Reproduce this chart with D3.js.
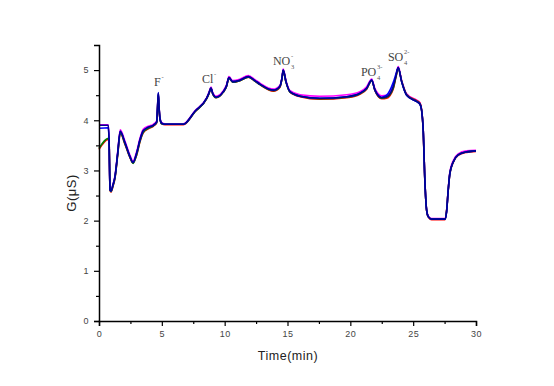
<!DOCTYPE html>
<html><head><meta charset="utf-8">
<script src="https://cdn.jsdelivr.net/npm/d3@7"></script>
<style>body{margin:0;background:#fff}svg{display:block}</style>
</head><body>
<script>
const time = [0,0.74,0.80,0.88,0.95,1.11,1.27,1.49,1.69,2.07,2.47,2.71,3.0,3.26,3.52,3.92,4.32,4.59,4.65,4.72,4.77,4.85,4.99,5.25,6.71,7.64,8.57,8.75,8.91,9.07,9.31,9.89,10.14,10.34,10.64,11.22,11.88,12.41,12.81,13.87,14.40,14.56,14.66,14.88,15.2,16.0,17.58,19.71,20.76,21.3,21.7,21.96,22.49,22.89,23.41,23.63,23.81,24.08,24.48,25.28,25.54,25.67,25.80,25.93,26.07,26.20,26.46,27.53,27.66,27.79,27.92,28.19,28.58,29.25,30.0];

const magentaG = [3.91,3.91,3.62,2.62,2.60,2.72,2.89,3.38,3.81,3.58,
3.30,3.19,3.38,3.64,3.82,3.88,3.92,3.99,4.22,4.52,
4.31,4.05,3.95,3.93,3.93,4.19,4.45,4.56,4.66,4.54,
4.48,4.59,4.70,4.87,4.79,4.82,4.89,4.81,4.74,4.62,
4.70,4.85,5.02,4.79,4.59,4.51,4.48,4.51,4.57,4.67,
4.82,4.63,4.49,4.50,4.68,4.89,5.07,4.80,4.53,4.40,
4.35,4.22,3.82,2.82,2.22,2.09,2.04,2.04,2.19,2.63,
2.97,3.20,3.33,3.39,3.40];

const redG = [3.42,3.62,3.58,2.60,2.57,2.68,2.84,3.31,3.74,3.52,
3.25,3.15,3.31,3.57,3.75,3.83,3.88,3.95,4.18,4.50,
4.28,4.02,3.93,3.91,3.91,4.17,4.43,4.53,4.63,4.51,
4.45,4.56,4.67,4.84,4.76,4.79,4.86,4.78,4.71,4.58,
4.66,4.83,4.99,4.76,4.56,4.47,4.42,4.45,4.52,4.62,
4.79,4.59,4.43,4.44,4.62,4.86,5.04,4.78,4.51,4.39,
4.34,4.21,3.79,2.80,2.20,2.07,2.02,2.02,2.20,2.60,
2.93,3.16,3.30,3.36,3.38];

const greenG = [3.44,3.64,3.59,2.61,2.58,2.69,2.85,3.32,3.75,3.53,
3.26,3.14,3.32,3.58,3.76,3.84,3.89,3.96,4.19,4.51,
4.29,4.03,3.93,3.92,3.92,4.17,4.43,4.53,4.63,4.51,
4.45,4.56,4.67,4.84,4.76,4.79,4.86,4.78,4.71,4.59,
4.67,4.83,4.99,4.76,4.56,4.48,4.43,4.46,4.53,4.63,
4.79,4.60,4.44,4.46,4.64,4.87,5.04,4.78,4.51,4.38,
4.33,4.21,3.80,2.81,2.21,2.08,2.03,2.03,2.19,2.61,
2.94,3.17,3.31,3.37,3.39];

const blueG = [3.84,3.85,3.60,2.61,2.59,2.71,2.87,3.35,3.78,3.55,
3.27,3.16,3.35,3.61,3.79,3.86,3.90,3.97,4.22,4.55,
4.30,4.04,3.94,3.92,3.92,4.18,4.44,4.54,4.64,4.52,
4.46,4.57,4.68,4.85,4.77,4.80,4.87,4.79,4.72,4.60,
4.68,4.84,5.00,4.77,4.57,4.48,4.44,4.47,4.54,4.64,
4.80,4.60,4.46,4.50,4.75,4.92,5.05,4.77,4.50,4.37,
4.32,4.20,3.80,2.81,2.21,2.08,2.03,2.03,2.18,2.61,
2.94,3.17,3.31,3.37,3.39];

const navyG = [3.90,3.90,3.61,2.61,2.59,2.71,2.87,3.35,3.78,3.55,
3.27,3.16,3.35,3.61,3.79,3.86,3.90,3.97,4.20,4.54,
4.30,4.04,3.94,3.92,3.92,4.18,4.44,4.54,4.64,4.52,
4.46,4.57,4.68,4.85,4.77,4.80,4.87,4.79,4.72,4.60,
4.68,4.84,5.00,4.77,4.57,4.48,4.44,4.47,4.54,4.64,
4.80,4.60,4.45,4.47,4.67,4.88,5.05,4.77,4.50,4.37,
4.32,4.20,3.80,2.81,2.21,2.08,2.03,2.03,2.18,2.61,
2.94,3.17,3.31,3.37,3.39];

const seriesNames = ["magenta","red","green","blue","navy"];
const seriesValues = [magentaG, redG, greenG, blueG, navyG];
const seriesColors = ["#ff00ff","#ff0000","#008000","#0000ff","#000090"];

const xTicks = [0,5,10,15,20,25,30];
const yTicks = [0,1,2,3,4,5];

// peak labels: [main, subscript, superscript, time (left edge), G (baseline)]
const peakLabels = [
  ["F","","-",4.38,4.68],
  ["Cl","","-",8.19,4.74],
  ["NO","3","-",13.84,5.10],
  ["PO","4","3-",20.84,4.88],
  ["SO","4","2-",22.99,5.18]
];

const W = 554, H = 386;
const svg = d3.select("body").append("svg").attr("width",W).attr("height",H);
const x = d3.scaleLinear().domain([0,30]).range([99,476]);
const y = d3.scaleLinear().domain([0,5.5]).range([321,45]);

const line = d3.line().x((d,i)=>x(time[i])).y(d=>y(d)).curve(d3.curveMonotoneX);
seriesValues.forEach((vals,k)=>{
  svg.append("path").datum(vals).attr("d",line)
    .attr("fill","none").attr("stroke",seriesColors[k]).attr("stroke-width",1.6)
    .attr("stroke-linejoin","round");
});

// axes
svg.append("g").attr("transform","translate(0,321)")
  .call(d3.axisBottom(x).tickValues(xTicks).tickSize(5).tickPadding(5).tickFormat(d3.format("d")));
svg.append("g").attr("transform","translate(0,321)")
  .call(d3.axisBottom(x).tickValues(d3.range(2.5,30,5)).tickSize(3).tickFormat(""))
  .select(".domain").remove();
svg.append("g").attr("transform","translate(99,0)")
  .call(d3.axisLeft(y).tickValues(yTicks).tickSize(5).tickPadding(5).tickFormat(d3.format("d")));
svg.append("g").attr("transform","translate(99,0)")
  .call(d3.axisLeft(y).tickValues(d3.range(0.5,5.5,1)).tickSize(3).tickFormat(""))
  .select(".domain").remove();

svg.selectAll(".domain").attr("stroke","#000").attr("stroke-width",1.5);
svg.selectAll(".tick line").attr("stroke","#000").attr("stroke-width",1.2);
svg.selectAll(".tick text").attr("font-family","'Liberation Sans',Arial,sans-serif")
  .attr("font-size",9).attr("fill","#444").attr("letter-spacing",0.5);

svg.append("text").attr("x",288).attr("y",360).attr("text-anchor","middle")
  .attr("font-family","'Liberation Sans',Arial,sans-serif").attr("font-size",12.5)
  .attr("letter-spacing",0.5).attr("fill","#222").text("Time(min)");
svg.append("text").attr("transform","translate(76,193) rotate(-90)").attr("text-anchor","middle")
  .attr("font-family","'Liberation Sans',Arial,sans-serif").attr("font-size",13)
  .attr("letter-spacing",0.5).attr("fill","#222").text("G(μS)");

// peak labels
const serif = "'Liberation Serif','Times New Roman',serif";
peakLabels.forEach(([main,sub,sup,t,g])=>{
  const bx = x(t), by = y(g);
  const m = svg.append("text").attr("x",bx).attr("y",by)
    .attr("font-family",serif).attr("font-size",12).attr("fill","#444").text(main);
  const w = m.node().getComputedTextLength();
  if (sup) svg.append("text").attr("x",bx+w+0.8).attr("y",by-7)
    .attr("font-family",serif).attr("font-size",6.5).attr("fill","#555").text(sup);
  if (sub) svg.append("text").attr("x",bx+w+0.8).attr("y",by+3.5)
    .attr("font-family",serif).attr("font-size",6.5).attr("fill","#555").text(sub);
});
</script>
</body></html>
